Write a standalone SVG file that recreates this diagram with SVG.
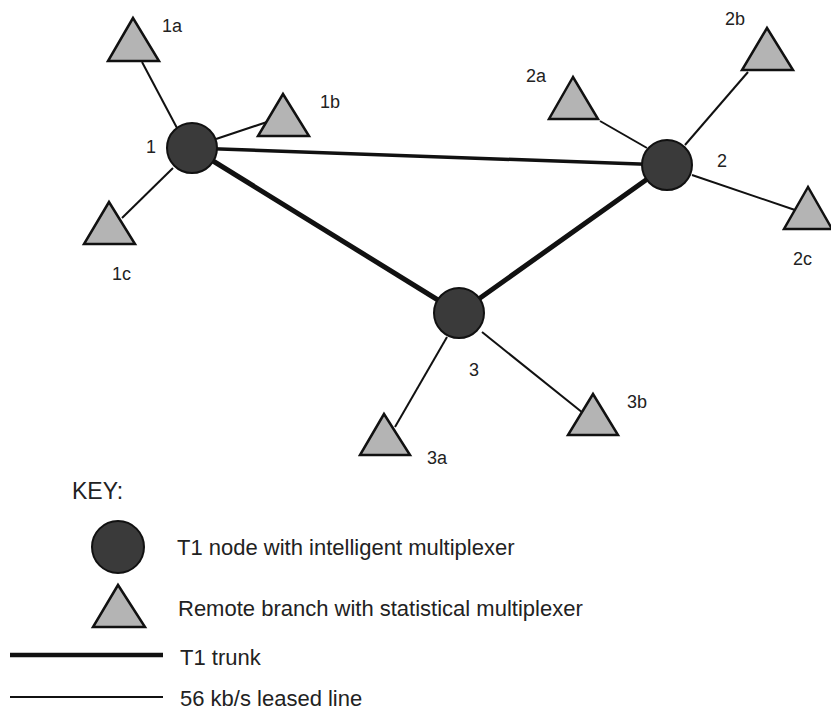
<svg xmlns="http://www.w3.org/2000/svg" width="831" height="712" viewBox="0 0 831 712">
<style>
.node{fill:#3a3a3a;stroke:#111;stroke-width:2}
.branch{fill:#b4b4b4;stroke:#111;stroke-width:2.5;stroke-linejoin:miter}
.trunk{stroke:#111;stroke-width:5;stroke-linecap:round}
.trunk2{stroke:#111;stroke-width:3.5;stroke-linecap:round}
.leased{stroke:#111;stroke-width:2}
.lbl{font-family:"Liberation Sans",Arial,sans-serif;font-size:18px;fill:#222}
.key{font-family:"Liberation Sans",Arial,sans-serif;font-size:22px;fill:#222}
</style>
<rect width="831" height="712" fill="#fff"/>
<g id="connectors">
<line class="trunk2" x1="192" y1="148" x2="667" y2="165"/>
<line class="trunk" x1="192" y1="148" x2="459" y2="313"/>
<line class="trunk" x1="667" y1="165" x2="459" y2="313"/>
<line class="leased" x1="142" y1="62" x2="177" y2="128"/>
<line class="leased" x1="216" y1="139" x2="267" y2="122"/>
<line class="leased" x1="122" y1="218" x2="173" y2="168"/>
<line class="leased" x1="600" y1="121" x2="647" y2="148"/>
<line class="leased" x1="748" y1="72" x2="685" y2="145"/>
<line class="leased" x1="692" y1="175" x2="795" y2="210"/>
<line class="leased" x1="395" y1="427" x2="447" y2="337"/>
<line class="leased" x1="482" y1="332" x2="583" y2="413"/>
</g>
<g id="node1"><circle class="node" cx="192" cy="148" r="25"/><text class="lbl" x="146" y="153">1</text></g>
<g id="node2"><circle class="node" cx="667" cy="165" r="25"/><text class="lbl" x="717" y="167">2</text></g>
<g id="node3"><circle class="node" cx="459" cy="313" r="25"/><text class="lbl" x="469" y="376">3</text></g>
<g id="branch1a"><polygon class="branch" points="133,18 108,61 159,61"/><text class="lbl" x="162" y="32">1a</text></g>
<g id="branch1b"><polygon class="branch" points="283,94 258,136 309,136"/><text class="lbl" x="320" y="108">1b</text></g>
<g id="branch1c"><polygon class="branch" points="109,202 84,244 135,244"/><text class="lbl" x="112" y="280">1c</text></g>
<g id="branch2a"><polygon class="branch" points="573,77 549,119 598,119"/><text class="lbl" x="526" y="82">2a</text></g>
<g id="branch2b"><polygon class="branch" points="767,28 742,70 793,70"/><text class="lbl" x="725" y="25">2b</text></g>
<g id="branch2c"><polygon class="branch" points="808,187 784,229 832,229"/><text class="lbl" x="793" y="265">2c</text></g>
<g id="branch3a"><polygon class="branch" points="384,414 360,455 410,455"/><text class="lbl" x="427" y="464">3a</text></g>
<g id="branch3b"><polygon class="branch" points="593,394 568,435 618,435"/><text class="lbl" x="627" y="408">3b</text></g>
<g id="legend">
<text class="key" x="72" y="499" style="font-size:23px">KEY:</text>
<circle class="node" cx="118" cy="547" r="26"/>
<text class="key" x="177" y="555">T1 node with intelligent multiplexer</text>
<polygon class="branch" points="118,585 93,627 145,627"/>
<text class="key" x="178" y="616">Remote branch with statistical multiplexer</text>
<line stroke="#111" stroke-width="4.5" x1="10" y1="655" x2="163" y2="655"/>
<text class="key" x="180" y="665">T1 trunk</text>
<line stroke="#111" stroke-width="2" x1="10" y1="697" x2="163" y2="697"/>
<text class="key" x="180" y="706">56 kb/s leased line</text>
</g>
</svg>
